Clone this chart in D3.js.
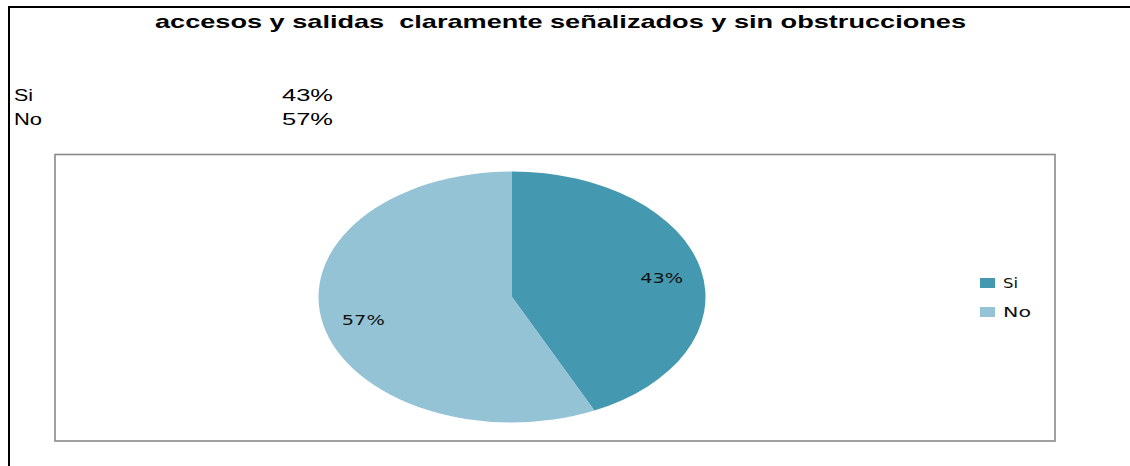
<!DOCTYPE html>
<html>
<head>
<meta charset="utf-8">
<script src="https://d3js.org/d3.v7.min.js"></script>
<style>
    body { margin: 0; background: #fff; }
    svg { display: block; }
</style>
</head>
<body>
<div id="chart"></div>
<script>
    var title = "accesos y salidas  claramente señalizados y sin obstrucciones";
    var categories = ["Si", "No"];
    var values = [43, 57];
    var colors = ["#4499b1", "#94c3d5"];

    var width = 1130, height = 466;

    var svg = d3.select("#chart").append("svg")
        .attr("width", width)
        .attr("height", height);

    // outer frame (top + left only visible)
    svg.append("line")
        .attr("x1", 8).attr("y1", 7).attr("x2", width).attr("y2", 7)
        .attr("stroke", "#000").attr("stroke-width", 2);
    svg.append("line")
        .attr("x1", 9).attr("y1", 6).attr("x2", 9).attr("y2", height)
        .attr("stroke", "#000").attr("stroke-width", 2);

    // title (stretched like the source)
    svg.append("text")
        .attr("x", 155).attr("y", 28)
        .attr("textLength", 811)
        .attr("lengthAdjust", "spacingAndGlyphs")
        .style("font-family", "Liberation Sans, Arial, sans-serif")
        .style("font-weight", "bold")
        .style("font-size", "19px")
        .style("white-space", "pre")
        .attr("xml:space", "preserve")
        .text(title);

    // little data table above the chart
    var table = svg.append("g")
        .style("font-family", "Liberation Sans, Arial, sans-serif")
        .style("font-size", "16px");
    var rowY = d3.scalePoint().domain(categories).range([101, 125]);
    categories.forEach(function (c, i) {
        table.append("text")
            .attr("x", 14).attr("y", rowY(c))
            .attr("textLength", c == "Si" ? 19 : 28)
            .attr("lengthAdjust", "spacingAndGlyphs")
            .text(c);
        table.append("text")
            .attr("x", 282).attr("y", rowY(c))
            .attr("textLength", 51)
            .attr("lengthAdjust", "spacingAndGlyphs")
            .text(values[i] + "%");
    });

    // plot area box
    svg.append("rect")
        .attr("x", 55).attr("y", 154.5)
        .attr("width", 1000).attr("height", 286.5)
        .attr("fill", "none")
        .attr("stroke", "#8a8a8a")
        .attr("stroke-width", 1.6);

    // stretched pie
    var cx = 512, cy = 297, rx = 193.5, ry = 125.5;
    var total = d3.sum(values);
    var pie = d3.pie().sort(null).value(function (d) { return d; });
    var arcs = pie(values);
    var arc = d3.arc().innerRadius(0).outerRadius(ry);

    var pieG = svg.append("g")
        .attr("transform", "translate(" + cx + "," + cy + ") scale(" + (rx / ry) + ",1)");
    pieG.selectAll("path")
        .data(arcs)
        .enter()
        .append("path")
        .attr("d", arc)
        .attr("fill", function (d, i) { return colors[i]; });

    svg.selectAll(".lbl")
        .data(arcs)
        .enter()
        .append("text")
        .attr("class", "lbl")
        .attr("x", function (d) {
            var a = (d.startAngle + d.endAngle) / 2;
            return cx + Math.sin(a) * rx * 0.79 - 21;
        })
        .attr("y", function (d) {
            var a = (d.startAngle + d.endAngle) / 2;
            return cy - Math.cos(a) * ry * 0.76 + 7;
        })
        .attr("textLength", 43)
        .attr("lengthAdjust", "spacingAndGlyphs")
        .style("font-family", "DejaVu Sans, Verdana, sans-serif")
        .style("font-size", "14px")
        .attr("fill", "#111")
        .text(function (d) { return Math.round(d.data / total * 100) + "%"; });

    // legend
    var legY = d3.scalePoint().domain(categories).range([283, 312]);
    var leg = svg.append("g");
    categories.forEach(function (c, i) {
        leg.append("rect")
            .attr("x", 980).attr("y", legY(c) - 5)
            .attr("width", 15).attr("height", 10)
            .attr("fill", colors[i]);
        leg.append("text")
            .attr("x", 1003).attr("y", legY(c) + 5)
            .attr("textLength", c == "Si" ? 15 : 28)
            .attr("lengthAdjust", "spacingAndGlyphs")
            .style("font-family", "DejaVu Sans, Verdana, sans-serif")
            .style("font-size", "14px")
            .attr("fill", "#111")
            .text(c);
    });
</script>
</body>
</html>
